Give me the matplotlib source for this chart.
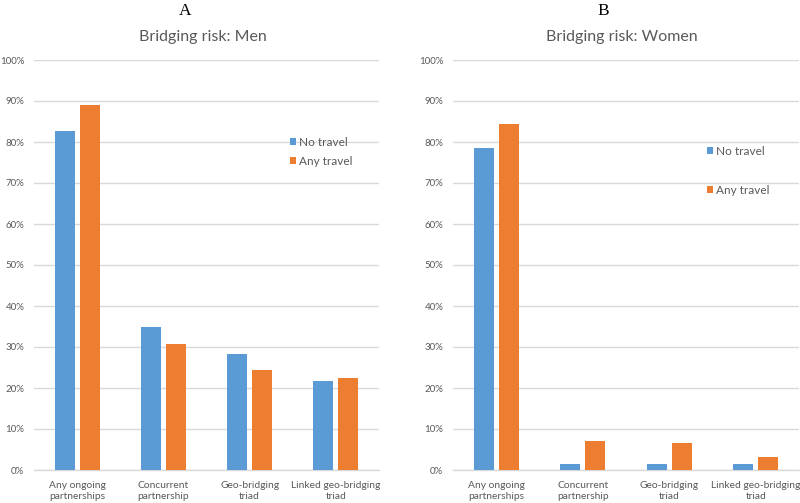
import matplotlib
matplotlib.use("Agg")
import matplotlib.pyplot as plt
import numpy as np

categories = ["Any ongoing\npartnerships", "Concurrent\npartnership", "Geo-bridging\ntriad", "Linked geo-bridging\ntriad"]
series_names = ["No travel", "Any travel"]
men_no_travel = [0.827, 0.348, 0.282, 0.218]
men_any_travel = [0.890, 0.308, 0.244, 0.225]
women_no_travel = [0.785, 0.014, 0.014, 0.014]
women_any_travel = [0.845, 0.070, 0.066, 0.032]
yticks = [0, 0.1, 0.2, 0.3, 0.4, 0.5, 0.6, 0.7, 0.8, 0.9, 1.0]
panel_letters = ["A", "B"]
panel_titles = ["Bridging risk: Men", "Bridging risk: Women"]

BLUE = "#5B9BD5"
ORANGE = "#ED7D31"
GRID = "#D9D9D9"
TXT = "#595959"
FONT = ["Lato", "DejaVu Sans"]

fig = plt.figure(figsize=(8.0, 5.03), dpi=100)
fig.patch.set_facecolor("white")

axes_rects = [
    [34/800, 1-470/503, (379-34)/800, (470-60)/503],
    [453/800, 1-470/503, (799-453)/800, (470-60)/503],
]
data = [(men_no_travel, men_any_travel), (women_no_travel, women_any_travel)]
legend_anchor = [(290/800, 1-137/503), (707/800, 1-146/503)]
legend_spacing = [0.65, 2.35]
letter_x = [185/800, 603/800]

x = np.arange(len(categories))
bw = 0.23
gap = 0.06

for i in range(2):
    ax = fig.add_axes(axes_rects[i])
    a, b = data[i]
    b1 = ax.bar(x - (bw+gap)/2, a, bw, color=BLUE, label=series_names[0], zorder=3)
    b2 = ax.bar(x + (bw+gap)/2, b, bw, color=ORANGE, label=series_names[1], zorder=3)
    ax.set_xlim(-0.5, len(categories)-0.5)
    ax.set_ylim(0, 1.0)
    ax.set_yticks(yticks)
    ax.set_yticklabels([f"{int(round(t*100))}%" for t in yticks], fontsize=7.0, color=TXT, family=FONT)
    ax.yaxis.grid(True, color=GRID, linewidth=1, zorder=0)
    ax.set_axisbelow(True)
    for s in ["top", "right", "left"]:
        ax.spines[s].set_visible(False)
    ax.spines["bottom"].set_color(GRID)
    ax.spines["bottom"].set_linewidth(1)
    ax.tick_params(axis="y", length=0, pad=7)
    ax.set_xticks(x)
    ax.set_xticklabels(categories, fontsize=7.4, color=TXT, family=FONT, linespacing=1.2)
    ax.tick_params(axis="x", length=0, pad=8)
    ax.set_facecolor("white")
    leg = ax.legend(handles=[b1, b2], loc="upper left", bbox_to_anchor=legend_anchor[i],
                    bbox_transform=fig.transFigure, frameon=False,
                    prop={"family": FONT, "size": 8.5}, labelcolor=TXT,
                    handlelength=0.5, handleheight=0.5, handletextpad=0.3,
                    labelspacing=legend_spacing[i], borderpad=0, borderaxespad=0)
    cx = (axes_rects[i][0] + axes_rects[i][2]/2)
    fig.text(letter_x[i], 1-11/503, panel_letters[i], ha="center", va="center",
             fontsize=12.5, family=["Liberation Serif", "DejaVu Serif"], color="black")
    fig.text(cx - 0.005, 1-37/503, panel_titles[i], ha="center", va="center",
             fontsize=11.5, family=FONT, color=TXT)

fig.savefig("out.png", dpi=100, facecolor="white")
